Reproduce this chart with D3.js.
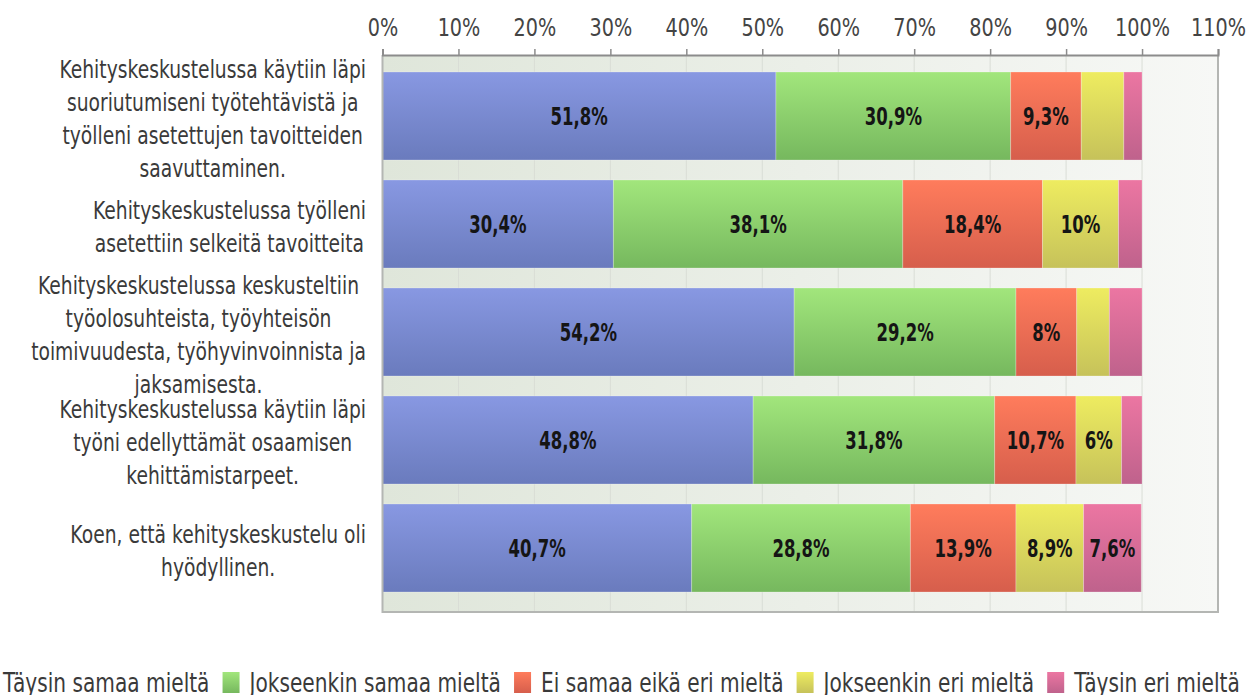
<!DOCTYPE html>
<html>
<head>
<meta charset="utf-8">
<script src="https://cdn.jsdelivr.net/npm/d3@7"></script>
<style>
    body { margin: 0; background: #fff; }
    svg { display: block; }
</style>
</head>
<body>
<div id="chart"></div>
<script>
// question texts, line breaks as in the picture
const categories = [
    'Kehityskeskustelussa käytiin läpi\nsuoriutumiseni työtehtävistä ja\ntyölleni asetettujen tavoitteiden\nsaavuttaminen.',
    'Kehityskeskustelussa työlleni\nasetettiin selkeitä tavoitteita',
    'Kehityskeskustelussa keskusteltiin\ntyöolosuhteista, työyhteisön\ntoimivuudesta, työhyvinvoinnista ja\njaksamisesta.',
    'Kehityskeskustelussa käytiin läpi\ntyöni edellyttämät osaamisen\nkehittämistarpeet.',
    'Koen, että kehityskeskustelu oli\nhyödyllinen.'
];

const seriesNames = [
    'Täysin samaa mieltä',
    'Jokseenkin samaa mieltä',
    'Ei samaa eikä eri mieltä',
    'Jokseenkin eri mieltä',
    'Täysin eri mieltä'
];

const taysinSamaa = [51.8, 30.4, 54.2, 48.8, 40.7];
const jokseenkinSamaa = [30.9, 38.1, 29.2, 31.8, 28.8];
const eiSamaaEikaEri = [9.3, 18.4, 8.0, 10.7, 13.9];
const jokseenkinEri = [5.6, 10.0, 4.3, 6.0, 8.9];
const taysinEri = [2.4, 3.1, 4.3, 2.7, 7.6];

const xTicks = [0, 10, 20, 30, 40, 50, 60, 70, 80, 90, 100, 110];

// top / bottom colours of each series gradient
const colorsTop = ['#8898e2', '#a2e67c', '#ff7c5c', '#eeec60', '#ec76a2'];
const colorsBottom = ['#6a7bbd', '#76b85e', '#d65e4c', '#c6c25a', '#bf628c'];

const width = 1247, height = 695;
const plot = { left: 382.5, right: 1218, top: 55, bottom: 612 };
const sx = 0.78; // horizontal squeeze of all text
const fontFamily = '"DejaVu Sans", Verdana, sans-serif';

const allSeries = [taysinSamaa, jokseenkinSamaa, eiSamaaEikaEri, jokseenkinEri, taysinEri];
const rows = categories.map((c, i) => {
    const row = { cat: c };
    seriesNames.forEach((s, j) => { row[s] = allSeries[j][i]; });
    return row;
});

const svg = d3.select('#chart')
    .append('svg')
    .attr('width', width)
    .attr('height', height);

const defs = svg.append('defs');

const bg = defs.append('linearGradient')
    .attr('id', 'bg-grad')
    .attr('x1', '0%').attr('x2', '100%')
    .attr('y1', '0%').attr('y2', '0%');
bg.append('stop').attr('offset', '0%').attr('stop-color', '#dfe6da');
bg.append('stop').attr('offset', '100%').attr('stop-color', '#f7f8f6');

seriesNames.forEach((s, j) => {
    const g = defs.append('linearGradient')
        .attr('id', 'grad' + j)
        .attr('x1', '0%').attr('x2', '0%')
        .attr('y1', '0%').attr('y2', '100%');
    g.append('stop').attr('offset', '0%').attr('stop-color', colorsTop[j]);
    g.append('stop').attr('offset', '100%').attr('stop-color', colorsBottom[j]);
});

const x = d3.scaleLinear()
    .domain([0, 110])
    .range([plot.left, plot.right]);

const y = d3.scaleBand()
    .domain(d3.range(categories.length))
    .range([62, 602])
    .paddingInner(0.185)
    .paddingOuter(0.0925);

// plot background
svg.append('rect')
    .attr('x', plot.left)
    .attr('y', plot.top)
    .attr('width', plot.right - plot.left)
    .attr('height', plot.bottom - plot.top)
    .attr('fill', 'url(#bg-grad)');

svg.append('g')
    .attr('class', 'grid')
    .selectAll('line')
    .data(xTicks.slice(1, -1))
    .enter()
    .append('line')
    .attr('x1', d => x(d))
    .attr('x2', d => x(d))
    .attr('y1', plot.top)
    .attr('y2', plot.bottom)
    .attr('stroke', '#d9ddd6')
    .attr('stroke-width', 1);

// bars
const stack = d3.stack().keys(seriesNames);
const stacked = stack(rows);

const layers = svg.append('g')
    .selectAll('g')
    .data(stacked)
    .enter()
    .append('g')
    .attr('fill', (d, j) => `url(#grad${j})`);

layers.selectAll('rect')
    .data(d => d)
    .enter()
    .append('rect')
    .attr('x', d => x(d[0]))
    .attr('y', (d, i) => y(i))
    .attr('width', d => x(d[1]) - x(d[0]))
    .attr('height', y.bandwidth())
    .attr('stroke', 'rgba(255,255,255,0.25)')
    .attr('stroke-width', 1);

function fmt(v) {
    return (Number.isInteger(v) ? String(v) : v.toFixed(1).replace('.', ',')) + '%';
}

// value labels inside the segments
layers.selectAll('g.val')
    .data(d => d.map((p, i) => ({ p, i, v: p[1] - p[0] })).filter(o => o.v >= 6))
    .enter()
    .append('g')
    .attr('class', 'val')
    .attr('transform', o => `translate(${(x(o.p[0]) + x(o.p[1])) / 2},${y(o.i) + y.bandwidth() / 2 + 9}) scale(0.66,1)`)
    .append('text')
    .attr('text-anchor', 'middle')
    .attr('font-family', fontFamily)
    .attr('font-weight', 'bold')
    .attr('font-size', '25px')
    .attr('fill', '#151515')
    .text(o => fmt(o.v));

// frame
svg.append('path')
    .attr('d', `M${plot.left},${plot.top}V${plot.bottom}H${plot.right}V${plot.top}`)
    .attr('fill', 'none')
    .attr('stroke', '#b4b6b3')
    .attr('stroke-width', 2);

// top axis
const axis = svg.append('g')
    .attr('transform', `translate(0,${plot.top})`)
    .call(d3.axisTop(x)
        .tickValues(xTicks)
        .tickSize(6)
        .tickPadding(13)
        .tickFormat(d => d + '%'));

axis.select('.domain')
    .attr('stroke', '#8c8c8c')
    .attr('stroke-width', 2);
axis.selectAll('.tick line')
    .attr('stroke', '#8c8c8c')
    .attr('stroke-width', 1.5);
axis.selectAll('.tick text')
    .attr('font-family', fontFamily)
    .attr('font-size', '24px')
    .attr('fill', '#444')
    .attr('transform', `scale(0.8,1)`);

// category labels: block right aligned, lines centred in block
const labelRight = 366;
const lineH = 33;
categories.forEach((c, i) => {
    const lines = c.split('\n');
    const g = svg.append('g');
    const texts = lines.map(l => g.append('text')
        .attr('font-family', fontFamily)
        .attr('font-size', '24px')
        .attr('fill', '#3a3a3a')
        .attr('text-anchor', 'middle')
        .text(l));
    const maxW = d3.max(texts, t => t.node().getComputedTextLength()) * sx;
    const cx = labelRight - maxW / 2;
    const cy = y(i) + y.bandwidth() / 2 + 2;
    texts.forEach((t, k) => {
        const ly = cy + (k - (lines.length - 1) / 2) * lineH + 9;
        t.attr('transform', `translate(${cx},${ly}) scale(${sx},1)`);
    });
});

// legend along the bottom
const legend = svg.append('g');
let lx = -24;
seriesNames.forEach((s, j) => {
    legend.append('rect')
        .attr('x', lx)
        .attr('y', 672)
        .attr('width', 17)
        .attr('height', 21)
        .attr('fill', `url(#grad${j})`);
    const t = legend.append('text')
        .attr('font-family', fontFamily)
        .attr('font-size', '26px')
        .attr('fill', '#3a3a3a')
        .text(s);
    const w = t.node().getComputedTextLength() * 0.775;
    t.attr('transform', `translate(${lx + 27},692) scale(0.775,1)`);
    lx += 27 + w + 13;
});
</script>
</body>
</html>
